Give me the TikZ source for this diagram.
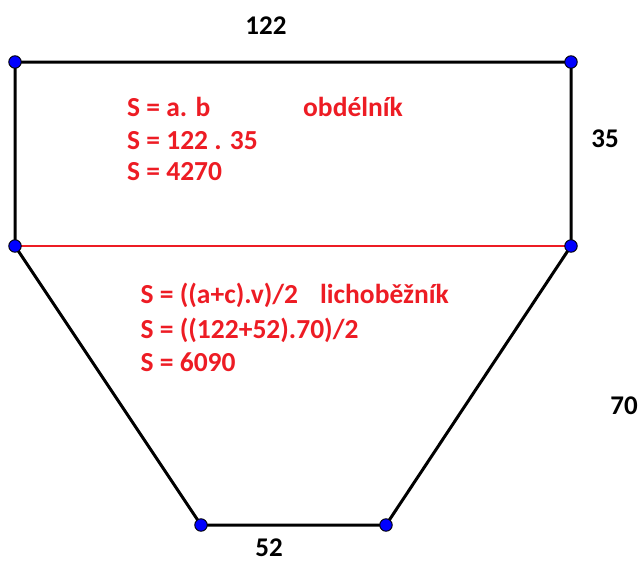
\documentclass[tikz,border=0pt]{standalone}
\usepackage{fontspec}
\setmainfont{Carlito}
\definecolor{myred}{RGB}{237,28,36}
\begin{document}
\begin{tikzpicture}[x=1pt,y=-1pt,
  edge/.style={line width=3pt,black},
  pt/.style={circle,fill=blue,draw=black,line width=0.9pt,minimum size=12.5pt,inner sep=0pt},
  redtxt/.style={anchor=base west,inner sep=0pt,text=myred,font=\fontsize{27.5}{30}\selectfont\bfseries},
  lbl/.style={inner sep=0pt,font=\fontsize{27}{30}\selectfont\bfseries}]
\useasboundingbox (0,0) rectangle (641,563);
\coordinate (A) at (15,62);
\coordinate (B) at (571,62);
\coordinate (C) at (571,246);
\coordinate (D) at (15,246);
\coordinate (E) at (386,525);
\coordinate (F) at (201,525);
\draw[edge] (D) -- (A) -- (B) -- (C) -- (E) -- (F) -- (D);
\draw[myred,line width=1.2pt] (D) -- (C);
\foreach \p in {A,B,C,D,E,F} \node[pt] (n\p) at (\p) {};
\node[lbl] (t122) at (266,26) {122};
\node[lbl] (t35) at (605,139) {35};
\node[lbl] (t70) at (624,406) {70};
\node[lbl,anchor=base] (t52) at (269,556) {52};
\node[redtxt] (r1) at (127,116.5) {S = a. b};
\node[redtxt] (r1b) at (303,116.5) {obdélník};
\node[redtxt] (r2) at (127,149.5) {S = 122 . 35};
\node[redtxt] (r3) at (127,180.5) {S = 4270};
\node[redtxt] (s1) at (140.5,303) {S = ((a+c).v)/2};
\node[redtxt] (s1b) at (320,303) {lichoběžník};
\node[redtxt] (s2) at (140.5,338) {S = ((122+52).70)/2};
\node[redtxt] (s3) at (140.5,371) {S = 6090};
\end{tikzpicture}
\end{document}
